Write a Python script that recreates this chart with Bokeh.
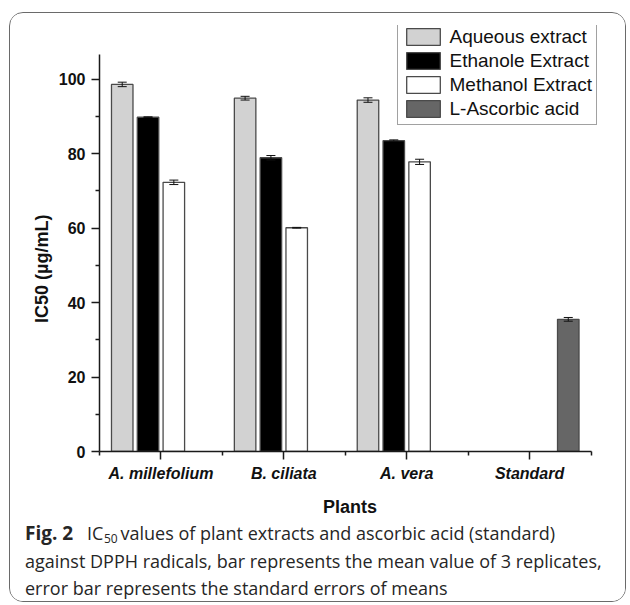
from bokeh.plotting import figure
from bokeh.layouts import column
from bokeh.models import (ColumnDataSource, FixedTicker, Whisker, TeeHead, Legend,
                          LegendItem, Range1d, Title)
from bokeh.core.properties import value
from bokeh.embed import file_html
from bokeh.resources import INLINE

# ---------------- data ----------------
categories = ["A. millefolium", "B. ciliata", "A. vera", "Standard"]
plant_categories = ["A. millefolium", "B. ciliata", "A. vera"]
standard_categories = ["Standard"]
series_names = ["Aqueous extract", "Ethanole Extract", "Methanol Extract", "L-Ascorbic acid"]

aqueous = [98.6, 94.9, 94.4]
aqueous_err = [0.6, 0.5, 0.6]
ethanol = [89.8, 78.9, 83.5]
ethanol_err = [0.1, 0.6, 0.2]
methanol = [72.3, 60.1, 77.8]
methanol_err = [0.6, 0.1, 0.7]
ascorbic = [35.5]
ascorbic_err = [0.5]

y_ticks = [0, 20, 40, 60, 80, 100]
y_minor_ticks = [10, 30, 50, 70, 90]
y_axis_top = 106.6
x_axis_bounds = (0.5, 4.5)

# ---------------- styling / geometry ----------------
colors = ["#d2d2d2", "#000000", "#ffffff", "#666666"]
slot = 0.21
bar_w = 0.175
slot_offsets = [-1.5 * slot, -0.5 * slot, 0.5 * slot, 1.5 * slot]
cat_pos = {c: i + 1 for i, c in enumerate(categories)}

W = 615
H_MAIN = 508
H_CAP = 80
ML, MR, MT, MB = 89, 25, 12, 70
frame_w = W - ML - MR
frame_h = H_MAIN - MT - MB
px_per_x = 491.5 / (x_axis_bounds[1] - x_axis_bounds[0])
px_per_y = 3.723
x_end = x_axis_bounds[0] + frame_w / px_per_x
y_end = frame_h / px_per_y

p = figure(width=W, height=H_MAIN, output_backend="svg", toolbar_location=None,
           x_range=Range1d(x_axis_bounds[0], x_end), y_range=Range1d(0, y_end),
           min_border_left=ML, min_border_right=MR, min_border_top=MT, min_border_bottom=MB)
p.frame_align = False
p.outline_line_color = None
p.xgrid.visible = False
p.ygrid.visible = False
p.background_fill_color = "white"
p.border_fill_color = "white"

series = [
    (plant_categories, aqueous, aqueous_err, 0),
    (plant_categories, ethanol, ethanol_err, 1),
    (plant_categories, methanol, methanol_err, 2),
    (standard_categories, ascorbic, ascorbic_err, 3),
]

items = []
whisker_sources = []
for cats, vals, errs, k in series:
    xs = [cat_pos[c] + slot_offsets[k] for c in cats]
    src = ColumnDataSource(dict(x=xs, top=vals,
                                upper=[v + e for v, e in zip(vals, errs)],
                                lower=[v - e for v, e in zip(vals, errs)]))
    r = p.vbar(x="x", top="top", width=bar_w, bottom=0, source=src,
               fill_color=colors[k], line_color="#4a4a4a", line_width=1.3)
    items.append(LegendItem(label=series_names[k], renderers=[r]))
    whisker_sources.append(src)

for src in whisker_sources:
    w = Whisker(source=src, base="x", upper="upper", lower="lower",
                line_color="#111111", line_width=1, level="annotation",
                upper_head=TeeHead(size=9, line_color="#111111", line_width=1),
                lower_head=TeeHead(size=9, line_color="#111111", line_width=1))
    p.add_layout(w)

# ---------------- axes ----------------
p.xaxis.ticker = FixedTicker(ticks=[1, 2, 3, 4], minor_ticks=[0.5, 1.5, 2.5, 3.5, 4.5])
p.xaxis.major_label_overrides = {cat_pos[c]: c for c in categories}
p.xaxis.bounds = x_axis_bounds
p.yaxis.ticker = FixedTicker(ticks=y_ticks, minor_ticks=y_minor_ticks)
p.yaxis.bounds = (0, y_axis_top)

for ax in (p.xaxis[0], p.yaxis[0]):
    ax.axis_line_color = "#1a1a1a"
    ax.axis_line_width = 1.5
    ax.major_tick_line_color = "#1a1a1a"
    ax.major_tick_line_width = 1.5
    ax.minor_tick_line_color = "#1a1a1a"
    ax.minor_tick_line_width = 1.5
    ax.major_tick_in = 0
    ax.major_tick_out = 8
    ax.minor_tick_in = 0
    ax.minor_tick_out = 4
    ax.major_label_text_font = "Liberation Sans"
    ax.major_label_text_font_size = "16px"
    ax.major_label_text_color = "#111111"
    ax.axis_label_text_font = "Liberation Sans"
    ax.axis_label_text_font_size = "18px"
    ax.axis_label_text_font_style = "bold"
    ax.axis_label_text_color = "#111111"

p.yaxis.major_label_text_font_style = "bold"
p.xaxis.major_label_text_font_style = "bold italic"
p.yaxis.major_label_standoff = 6
p.xaxis.major_label_standoff = 5
p.xaxis.axis_label = "Plants"
p.xaxis.axis_label_standoff = 12

# y-axis title (placed as a side title so it can sit where the original has it)
p.add_layout(Title(text="IC50 (µg/mL)", align="left", offset=128.5, standoff=8,
                   text_font="Liberation Sans", text_font_size="18px",
                   text_font_style="bold", text_color="#111111"), "left")

# ---------------- legend ----------------
legend = Legend(items=items, location=(297.5, 326.5), orientation="vertical",
                border_line_color="#444444", border_line_width=1.5,
                background_fill_color="white", background_fill_alpha=1,
                padding=4, spacing=2, margin=0,
                glyph_width=42, glyph_height=21, label_standoff=6,
                label_height=21,
                label_text_font="Liberation Sans", label_text_font_size="19px",
                label_text_color="#111111")
p.add_layout(legend)

# ---------------- caption ----------------
cap = figure(width=W, height=H_CAP, output_backend="svg", toolbar_location=None,
             x_range=Range1d(0, W), y_range=Range1d(H_CAP, 0), min_border=0,
             x_axis_location=None, y_axis_location=None)
cap.frame_align = False
cap.outline_line_color = None
cap.grid.visible = False
cap.background_fill_color = "white"
cap.border_fill_color = "white"

cap_font = value("Open Sans")
cap_color = "#262626"
cap_size = "18px"
cap_lines = [
    "values of plant extracts and ascorbic acid (standard)",
    "against DPPH radicals, bar represents the mean value of 3 replicates,",
    "error bar represents the standard errors of means",
]
cap.text(x=[14.5], y=[11.5], text=["Fig. 2"], text_font=cap_font, text_font_size="19px",
         text_font_style="bold", text_color=cap_color, text_baseline="middle")
cap.text(x=[76.5], y=[11.5], text=["IC"], text_font=cap_font, text_font_size=cap_size,
         text_color=cap_color, text_baseline="middle")
cap.text(x=[93.5], y=[16.5], text=["50"], text_font=cap_font, text_font_size="12px",
         text_color=cap_color, text_baseline="middle")
cap.text(x=[110, 14.5, 14.5], y=[11.5, 39.5, 66.5], text=cap_lines, text_font=cap_font,
         text_font_size=cap_size, text_color=cap_color, text_baseline="middle")

layout = column(p, cap, styles={"border": "1.5px solid #6a6a6a", "border-radius": "14px",
                                "overflow": "hidden", "margin-left": "9px",
                                "margin-top": "12px"})

open("out.html", "w").write(file_html(layout, INLINE))
